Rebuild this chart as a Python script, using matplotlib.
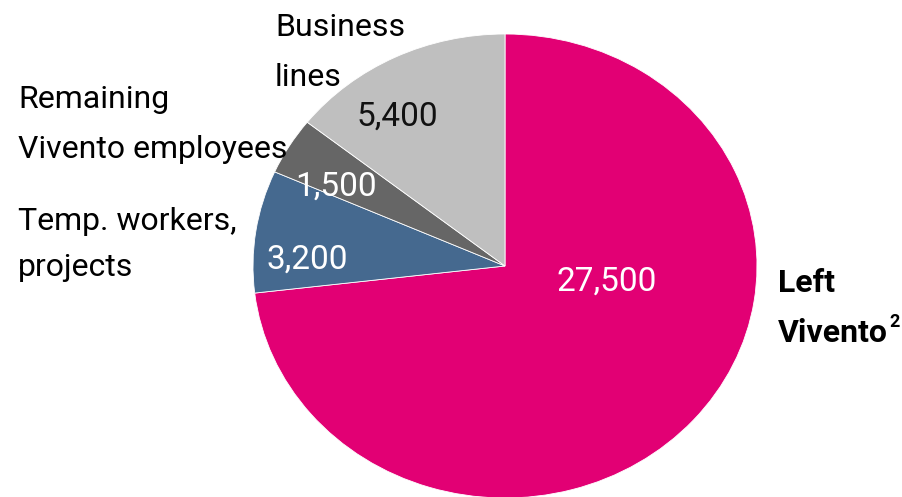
import matplotlib
matplotlib.use("Agg")
import matplotlib.pyplot as plt

categories = ["Left Vivento", "Temp. workers, projects", "Remaining Vivento employees", "Business lines"]
values = [27500, 3200, 1500, 5400]
value_labels = ["27,500", "3,200", "1,500", "5,400"]
colors = ["#E20074", "#45698F", "#666666", "#BFBFBF"]

FONT = ["Liberation Sans Narrow", "Roboto", "DejaVu Sans"]
plt.rcParams['font.family'] = FONT

W, H = 902, 497
fig = plt.figure(figsize=(W / 100, H / 100), dpi=100)

# ellipse bounds in pixels: x 253..757, y(top) 34..498
x0, x1, yt, yb = 253, 757, 34, 498
ax = fig.add_axes([x0 / W, (H - yb) / H, (x1 - x0) / W, (yb - yt) / H])
ax.pie(values, colors=colors, startangle=90, counterclock=False, radius=1,
       wedgeprops=dict(edgecolor="white", linewidth=0.6))
ax.set_aspect("auto")
ax.set_xlim(-1, 1)
ax.set_ylim(-1, 1)
ax.axis("off")

def px(x, y):
    return x / W, 1 - y / H

fs = 23
# value labels
for lab, (x, y), c in zip(value_labels,
                          [(607, 282), (307, 260), (336, 187), (397, 117)],
                          ["white", "white", "white", "#111111"]):
    fig.text(*px(x, y), lab, ha="center", va="center", fontsize=fs + 1, color=c)

# category labels
fig.text(*px(275, 27), "Business", ha="left", va="center", fontsize=fs, color="black")
fig.text(*px(275, 77), "lines", ha="left", va="center", fontsize=fs, color="black")
fig.text(*px(18, 100), "Remaining", ha="left", va="center", fontsize=fs, color="black")
fig.text(*px(18, 150), "Vivento employees", ha="left", va="center", fontsize=fs, color="black")
fig.text(*px(18, 222), "Temp. workers,", ha="left", va="center", fontsize=fs, color="black")
fig.text(*px(18, 268), "projects", ha="left", va="center", fontsize=fs, color="black")
fig.text(*px(778, 283), "Left", ha="left", va="center", fontsize=fs, fontweight="bold", color="black")
t = fig.text(*px(778, 333), "Vivento", ha="left", va="center", fontsize=fs, fontweight="bold", color="black")
fig.text(*px(889, 322), "2", ha="left", va="center", fontsize=13, fontweight="bold", color="black")

fig.savefig("out.png", dpi=100)
